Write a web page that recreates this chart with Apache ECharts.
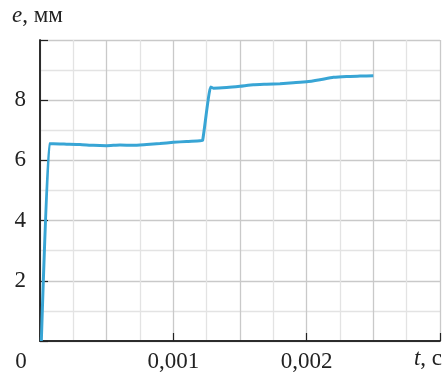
<!DOCTYPE html>
<html>
<head>
<meta charset="utf-8">
<script src="https://cdn.jsdelivr.net/npm/echarts@6/dist/echarts.min.js"></script>
<style>
  * { margin: 0; padding: 0; }
  body { background: #fff; }
  #chart { width: 446px; height: 374px; }
</style>
</head>
<body>
<div id="chart"></div>
<script>
// время, с
const tData = [0.00001, 0.00007, 0.0001, 0.0002, 0.0003, 0.0004, 0.0005, 0.0006, 0.0007, 0.0008,
  0.0009, 0.001, 0.0011, 0.0012, 0.00122, 0.00128, 0.0013, 0.0014, 0.0015, 0.0016,
  0.0017, 0.0018, 0.0019, 0.002, 0.0021, 0.0022, 0.0023, 0.0024, 0.0025];
// перемещение, мм
const eData = [0, 6.55, 6.55, 6.54, 6.53, 6.5, 6.49, 6.51, 6.5, 6.53,
  6.56, 6.6, 6.63, 6.65, 6.67, 8.44, 8.4, 8.42, 8.46, 8.51,
  8.53, 8.55, 8.58, 8.61, 8.68, 8.76, 8.79, 8.8, 8.81];
const xTickLabels = ['0', '0,001', '0,002', ''];
const yTickLabels = ['', '2', '4', '6', '8', ''];

const font = "'Liberation Serif', 'Times New Roman', serif";
const gridColors = ['#c9c9c9', '#e3e3e3'];

const chart = echarts.init(document.getElementById('chart'));
chart.setOption({
  animation: false,
  grid: { left: 40, top: 40, right: 6, bottom: 33 },
  xAxis: [
    {
      // сетка
      type: 'value', position: 'top', min: 0, max: 0.003, interval: 0.00025,
      axisLine: { show: true, lineStyle: { color: '#222', width: 1.5 } },
      axisTick: { show: false }, axisLabel: { show: false },
      splitLine: { show: true, lineStyle: { color: gridColors, width: 1.3 } }
    },
    {
      type: 'value', position: 'bottom', min: 0, max: 0.003, interval: 0.001,
      axisLine: { show: true, onZero: false, lineStyle: { color: '#222', width: 1.5 } },
      axisTick: { show: true, inside: true, length: 8, lineStyle: { color: '#222', width: 1.2 } },
      splitLine: { show: false },
      axisLabel: {
        margin: 9,
        color: '#222', fontFamily: font, fontSize: 23,
        formatter: (v) => {
          const i = Math.round(v / 0.001);
          if (i === 0) return '{z|' + xTickLabels[0] + '}';
          return xTickLabels[i] || '';
        },
        rich: { z: { fontFamily: font, fontSize: 23, color: '#222', padding: [0, 38, 0, 0] } }
      }
    }
  ],
  yAxis: [
    {
      type: 'value', position: 'right', min: 0, max: 10, interval: 1,
      axisLine: { show: true, lineStyle: { color: '#222', width: 1.5 } },
      axisTick: { show: false }, axisLabel: { show: false },
      splitLine: { show: true, lineStyle: { color: gridColors, width: 1.3 } }
    },
    {
      type: 'value', position: 'left', min: 0, max: 10, interval: 2,
      axisLine: { show: true, onZero: false, lineStyle: { color: '#222', width: 1.5 } },
      axisTick: { show: true, inside: true, length: 8, lineStyle: { color: '#222', width: 1.2 } },
      splitLine: { show: false },
      axisLabel: {
        margin: 14, color: '#222', fontFamily: font, fontSize: 23,
        formatter: (v) => yTickLabels[Math.round(v / 2)] || ''
      }
    }
  ],
  graphic: [
    {
      type: 'text', left: 12, top: 4,
      style: { text: '{i|e}, мм', rich: { i: { fontStyle: 'italic', fontFamily: font, fontSize: 23, fill: '#222' } },
        fontFamily: font, fontSize: 23, fill: '#222' }
    },
    {
      type: 'text', right: 4, top: 347,
      style: { text: '{i|t}, с', rich: { i: { fontStyle: 'italic', fontFamily: font, fontSize: 23, fill: '#222' } },
        fontFamily: font, fontSize: 23, fill: '#222' }
    }
  ],
  series: [{
    type: 'line',
    xAxisIndex: 1, yAxisIndex: 1,
    data: tData.map((t, i) => [t, eData[i]]),
    showSymbol: false,
    smooth: 0.15,
    lineStyle: { color: '#38a5d5', width: 3 }
  }]
});
</script>
</body>
</html>
